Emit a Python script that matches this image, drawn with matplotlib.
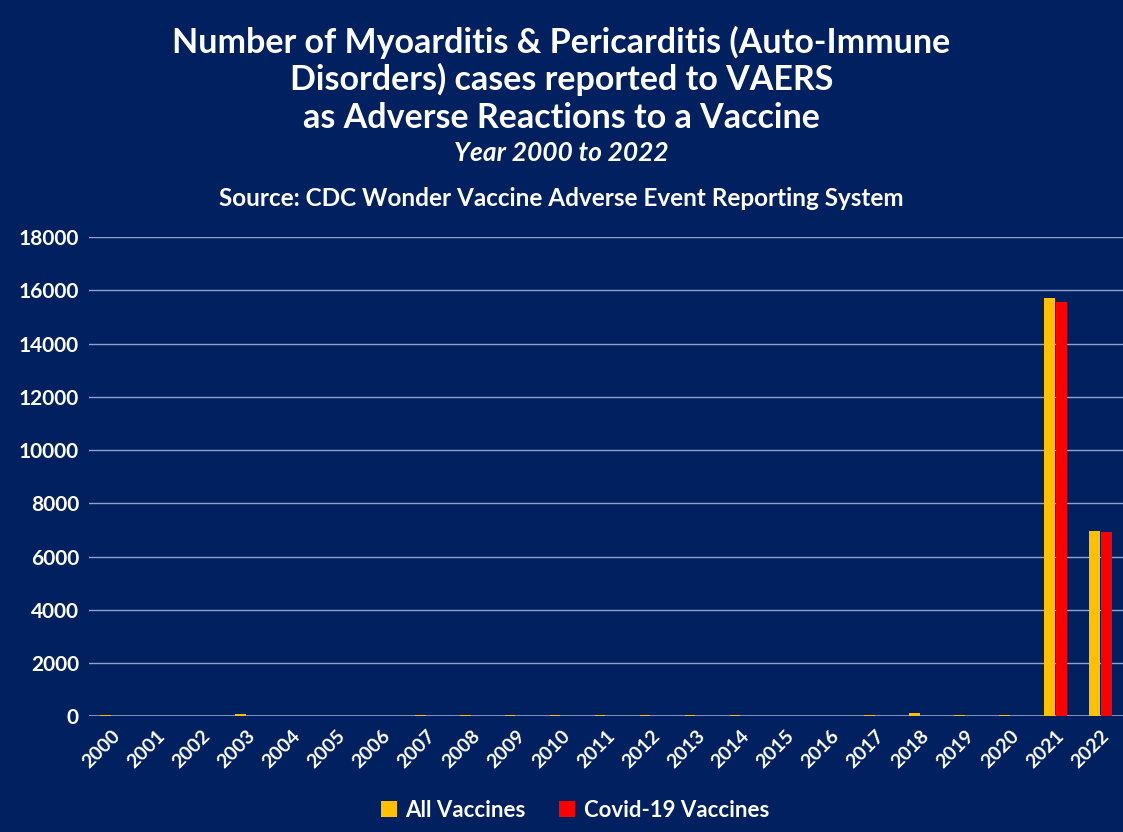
import matplotlib.pyplot as plt
import numpy as np

years = [str(y) for y in range(2000, 2023)]
all_vaccines = [35, 30, 30, 80, 30, 30, 30, 35, 35, 35, 60, 50, 45,
                45, 50, 25, 25, 50, 130, 50, 45, 15700, 6950]
covid_vaccines = [0, 0, 0, 0, 0, 0, 0, 0, 0, 0, 0, 0, 0,
                  0, 0, 0, 0, 0, 0, 0, 20, 15560, 6915]
yticks = list(range(0, 18001, 2000))

bg = '#002060'
plt.rcParams['font.family'] = ['Lato', 'DejaVu Sans']

fig = plt.figure(figsize=(11.23, 8.32), dpi=100, facecolor=bg)
ax = fig.add_axes([0.079, 0.139, 0.921, 0.576])
ax.set_facecolor(bg)

x = np.arange(len(years))
w = 0.24
ax.bar(x - w / 2 - 0.01, all_vaccines, w, color='#FFC000', label='All Vaccines', zorder=3)
ax.bar(x + w / 2 + 0.01, covid_vaccines, w, color='#FF0000', label='Covid-19 Vaccines', zorder=3)

ax.set_xlim(-0.5, len(years) - 0.5)
ax.set_ylim(0, 18000)
ax.set_yticks(yticks)
ax.set_yticklabels([str(t) for t in yticks], fontsize=15, fontweight='bold', color='white')
ax.set_xticks(x)
ax.set_xticklabels(years, rotation=45, ha='right', rotation_mode='anchor',
                   fontsize=14, fontweight='bold', color='white')
ax.tick_params(length=0, pad=8)
ax.tick_params(axis='y', pad=7)
ax.grid(axis='y', color='#8FA3CC', linewidth=1, zorder=0)
for s in ax.spines.values():
    s.set_visible(False)
ax.axhline(0, color='#8FA3CC', linewidth=1.2, zorder=2)

fig.text(0.5, 0.949, 'Number of Myoarditis & Pericarditis (Auto-Immune', ha='center', va='center',
         fontsize=24.5, fontweight='bold', color='white')
fig.text(0.5, 0.904, 'Disorders) cases reported to VAERS', ha='center', va='center',
         fontsize=24.5, fontweight='bold', color='white')
fig.text(0.5, 0.858, 'as Adverse Reactions to a Vaccine', ha='center', va='center',
         fontsize=24.5, fontweight='bold', color='white')
fig.text(0.5, 0.816, 'Year 2000 to 2022', ha='center', va='center',
         fontsize=19, fontweight='bold', style='italic', color='white')
fig.text(0.5, 0.762, 'Source: CDC Wonder Vaccine Adverse Event Reporting System', ha='center', va='center',
         fontsize=17.5, fontweight='bold', color='white')

leg = fig.legend(loc='center', bbox_to_anchor=(0.512, 0.026), ncol=2, frameon=False,
                 handlelength=0.7, handleheight=0.7, handletextpad=0.4, columnspacing=1.5,
                 prop={'size': 16, 'weight': 'bold'})
for t in leg.get_texts():
    t.set_color('white')

fig.savefig('out.png', dpi=100, facecolor=bg)
